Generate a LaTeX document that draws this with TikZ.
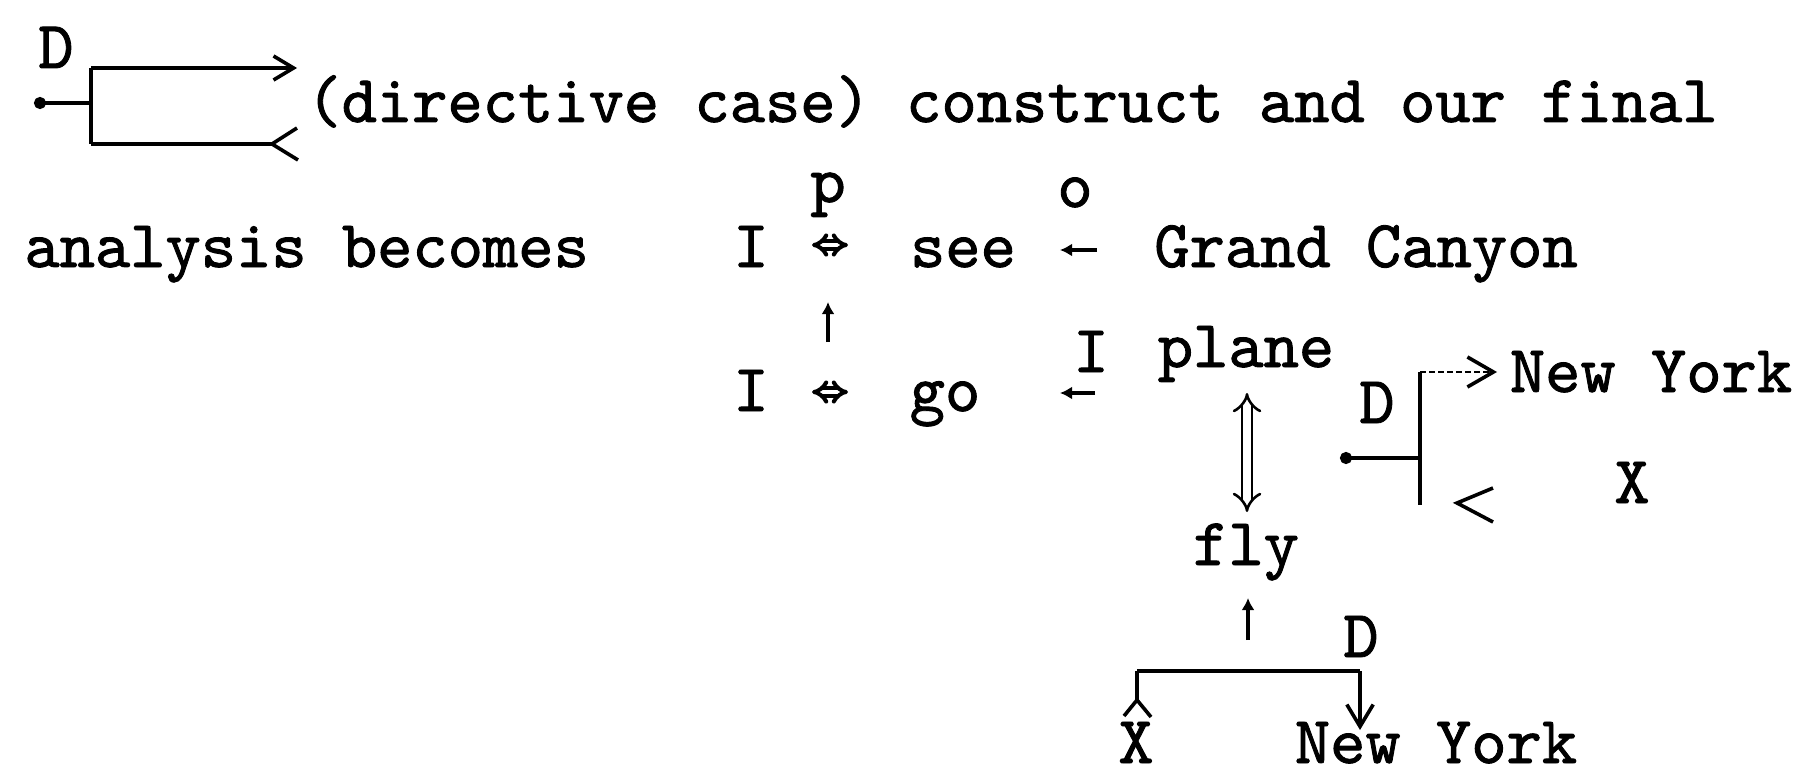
\documentclass[tikz,border=0pt]{standalone}
\usepackage{fontspec}
\setmonofont{lmmono10-regular.otf}[FakeBold=1.3]
\usetikzlibrary{arrows.meta}
\newcommand\tw{\fontsize{33.6pt}{40pt}\selectfont\ttfamily}
\begin{document}
\begin{tikzpicture}[x=0.5pt,y=-0.5pt,
  txt/.style={inner sep=0pt, anchor=base, font=\tw},
  bar/.style={line width=1.8pt},
  dotstart/.style={{Circle[length=6pt]}-},
  smallarr/.style={line width=1.8pt, -{Latex[length=6pt,width=6.5pt]}},
  dblarr/.style={double, double distance=1.6pt, line width=2pt, {Implies}-{Implies}},
  barb/.style={-{Straight Barb[length=#1,width=1.2*#1]}},
  vee/.style={line width=1.8pt, line join=miter}]
\useasboundingbox (0,0) rectangle (1802,775);

% ---- first line: directive-case bracket and running text
\node[txt] (D1) at (56,68) {D};
\coordinate (j1) at (91,103);
\coordinate (j1s) at (34,103);
\coordinate (j1t) at (91,68);
\coordinate (j1b) at (91,144);
\coordinate (j1te) at (297,68);
\coordinate (j1be) at (272,144);
\draw[bar] (j1t) -- (j1b);
\draw[bar, dotstart] (j1s) -- (j1);
\draw[bar, barb=10pt] (j1t) -- (j1te);
\draw[bar] (j1b) -- (j1be);
\draw[vee] (297,128) -- (j1be) -- (298,160);
\node[txt, anchor=base west] (line1) at (306,122) {(directive case) construct and our final};

% ---- second line
\node[txt, anchor=base west] (line2) at (24,267) {analysis becomes};
\node[txt] (I1) at (751,267) {I};
\coordinate (e1l) at (812,245);
\coordinate (e1r) at (848,245);
\draw[dblarr] (e1l) -- (e1r);
\node[txt] (p) at (828,202) {p};
\node[txt] (see) at (963,267) {see};
\coordinate (o1s) at (1097,250);
\coordinate (o1e) at (1060,250);
\draw[smallarr] (o1s) -- (o1e);
\node[txt] (o) at (1075,207) {o};
\node[txt] (gc) at (1366,267) {Grand Canyon};

% ---- causal link between the two conceptualisations
\coordinate (c1s) at (828,342);
\coordinate (c1e) at (828,302);
\draw[smallarr] (c1s) -- (c1e);

% ---- fourth line
\node[txt] (I2) at (751,411) {I};
\coordinate (e2l) at (812,392);
\coordinate (e2r) at (848,392);
\draw[dblarr] (e2l) -- (e2r);
\node[txt] (go) at (945,411) {go};
\coordinate (i2s) at (1095,393);
\coordinate (i2e) at (1060,393);
\draw[smallarr] (i2s) -- (i2e);
\node[txt] (Isup) at (1091,372) {I};
\node[txt] (plane) at (1246,367) {plane};

% plane <=> fly
\coordinate (pf1) at (1247,393);
\coordinate (pf2) at (1247,512);
\draw[double, double distance=3.6pt, line width=1.3pt, {Implies}-{Implies}] (pf1) -- (pf2);

% directive bracket to New York / X
\node[txt] (D2) at (1377,423) {D};
\coordinate (j2) at (1420,458);
\coordinate (j2s) at (1340,458);
\coordinate (j2t) at (1420,372);
\coordinate (j2b) at (1420,505);
\coordinate (j2te) at (1497,372);
\draw[bar] (j2t) -- (j2b);
\draw[bar, dotstart] (j2s) -- (j2);
\draw[line width=1pt, dash pattern=on 3pt off 1.5pt, -{Straight Barb[length=13pt,width=15pt,line width=1.8pt]}] (j2t) -- (j2te);
\draw[vee] (1493,488) -- (1457,503) -- (1493,522);
\node[txt] (ny1) at (1651,392) {New York};
\node[txt] (X1) at (1632,503) {X};

% fly and its instrument
\node[txt] (fly) at (1246,565) {fly};
\coordinate (c2s) at (1248,640);
\coordinate (c2e) at (1248,598);
\draw[smallarr] (c2s) -- (c2e);
\node[txt] (D3) at (1361,657) {D};
\coordinate (k1) at (1137,671);
\coordinate (k2) at (1360,671);
\coordinate (k1v) at (1137,700);
\coordinate (k2e) at (1360,730);
\draw[bar] (k1) -- (k2);
\draw[bar] (k1) -- (k1v);
\draw[vee] (1124,716) -- (k1v) -- (1151,717);
\draw[bar, barb=11pt] (k2) -- (k2e);
\node[txt] (X2) at (1136,763) {X};
\node[txt] (ny2) at (1436,763) {New York};
\end{tikzpicture}
\end{document}
